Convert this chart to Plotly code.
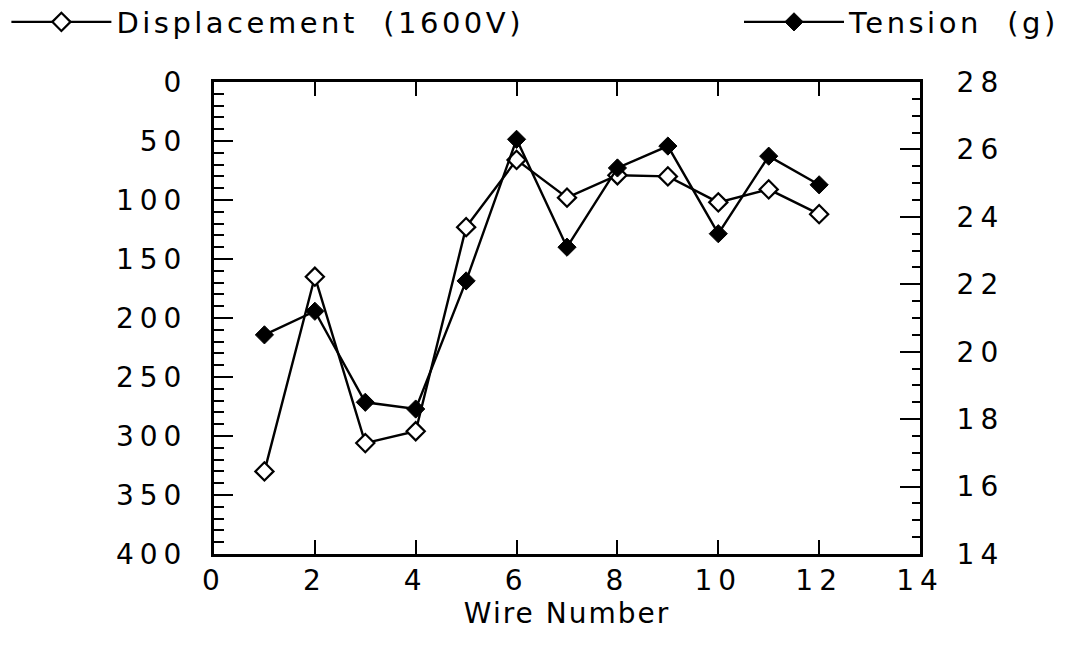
import plotly.graph_objects as go

# ---- data ----
wire = [1, 2, 3, 4, 5, 6, 7, 8, 9, 10, 11, 12]
displacement = [330, 165, 306, 296, 123, 66, 98, 79, 80, 102, 91, 112]
tension = [20.5, 21.2, 18.5, 18.3, 22.1, 26.3, 23.1, 25.45, 26.1, 23.5, 25.8, 24.95]

x_tickvals = [0, 2, 4, 6, 8, 10, 12, 14]
x_ticklabels = ["0", "2", "4", "6", "8", "10", "12", "14"]
disp_tickvals = [0, 50, 100, 150, 200, 250, 300, 350, 400]
disp_ticklabels = ["0", "50", "100", "150", "200", "250", "300", "350", "400"]
tens_tickvals = [14, 16, 18, 20, 22, 24, 26, 28]
tens_ticklabels = ["14", "16", "18", "20", "22", "24", "26", "28"]

FONT = "DejaVu Sans"


def spaced(s, px):
    return f"<span style='letter-spacing:{px}px'>{s}</span>"


fig = go.Figure()
fig.add_trace(go.Scatter(
    x=wire, y=displacement, name=spaced("Displacement  (1600V)", 3.5),
    mode="lines+markers", yaxis="y", legend="legend",
    line=dict(color="black", width=2.4),
    marker=dict(symbol="diamond", size=14, color="white",
                line=dict(color="black", width=2.2)),
))
fig.add_trace(go.Scatter(
    x=wire, y=tension, name=spaced("Tension  (g)", 3.5),
    mode="lines+markers", yaxis="y2", legend="legend2",
    line=dict(color="black", width=2.4),
    marker=dict(symbol="diamond", size=14, color="black",
                line=dict(color="black", width=1)),
))

fig.update_layout(
    width=1065, height=647,
    margin=dict(l=214, r=145, t=82, b=93),
    paper_bgcolor="white", plot_bgcolor="white",
    font=dict(family=FONT, color="black", size=28),
    showlegend=True,
    legend=dict(xref="container", yref="container", x=0.006, y=0.966,
                xanchor="left", yanchor="middle", itemwidth=100, orientation="h",
                font=dict(size=29, family=FONT), bgcolor="rgba(0,0,0,0)"),
    legend2=dict(xref="container", yref="container", x=1.0, y=0.966,
                 xanchor="right", yanchor="middle", itemwidth=100, orientation="h",
                 font=dict(size=29, family=FONT), bgcolor="rgba(0,0,0,0)"),
    xaxis=dict(
        range=[0, 14], tickvals=x_tickvals,
        ticktext=[spaced(t, 6) for t in x_ticklabels],
        ticks="inside", ticklen=14, tickwidth=2, tickcolor="black",
        showline=True, linecolor="black", linewidth=2.5, mirror="ticks",
        showgrid=False, zeroline=False, ticklabelstandoff=0, automargin=False,
        tickangle=0,
        tickfont=dict(size=28, family=FONT),
        title=dict(text=spaced("Wire Number", 2), font=dict(size=28, family=FONT), standoff=0),
    ),
    yaxis=dict(
        range=[400, 0], tickvals=disp_tickvals,
        ticktext=[spaced(t, 6) for t in disp_ticklabels],
        ticks="inside", ticklen=19, tickwidth=2, tickcolor="black",
        minor=dict(dtick=10, ticks="inside", ticklen=10, tickwidth=2, tickcolor="black"),
        showline=True, linecolor="black", linewidth=3, automargin=False,
        showgrid=False, zeroline=False, ticklabelstandoff=18,
        tickfont=dict(size=28, family=FONT),
    ),
    yaxis2=dict(
        range=[14, 28], tickvals=tens_tickvals,
        ticktext=[spaced(t, 6) for t in tens_ticklabels],
        overlaying="y", side="right", automargin=False,
        ticks="inside", ticklen=20, tickwidth=2, tickcolor="black",
        minor=dict(dtick=0.5, ticks="inside", ticklen=8, tickwidth=2, tickcolor="black"),
        showline=True, linecolor="black", linewidth=3,
        showgrid=False, zeroline=False, ticklabelstandoff=28,
        tickfont=dict(size=28, family=FONT),
    ),
)

fig.write_html("out.html")
